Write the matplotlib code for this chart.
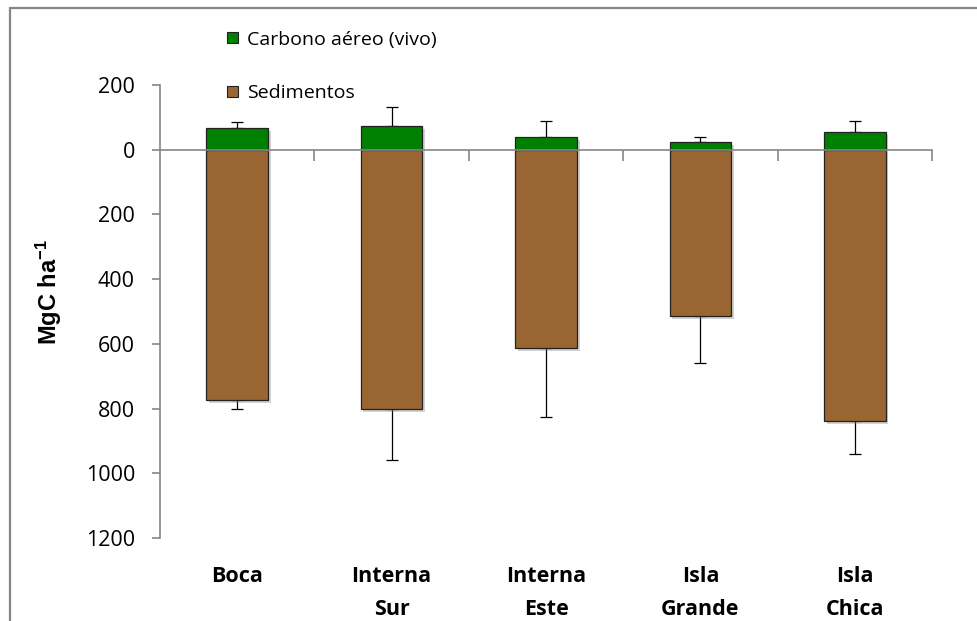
import matplotlib
matplotlib.use("Agg")
import matplotlib.pyplot as plt
import matplotlib.patheffects as pe
from matplotlib.patches import Patch, Rectangle
from matplotlib.ticker import FuncFormatter
import numpy as np

categories = ["Boca", "Interna\nSur", "Interna\nEste", "Isla\nGrande", "Isla\nChica"]
carbono_aereo = [67, 73, 40, 24, 54]
carbono_aereo_err = [19, 58, 48, 16, 34]
sedimentos = [775, 802, 613, 515, 839]
sedimentos_err = [27, 156, 213, 145, 101]
yticks = [200, 0, -200, -400, -600, -800, -1000, -1200]

plt.rcParams['font.family'] = ['Open Sans', 'DejaVu Sans']
plt.rcParams['mathtext.default'] = 'regular'

fig = plt.figure(figsize=(9.78, 6.21), dpi=100)
W, H = 978, 621
ax = fig.add_axes([160 / W, 1 - 538 / H, (932 - 160) / W, (538 - 85) / H])

x = np.arange(len(categories))
green = "#008000"
brown = "#996633"
shadow = [pe.SimplePatchShadow(offset=(2, -2), alpha=0.35, shadow_rgbFace="#808080"), pe.Normal()]

sed_vals = -np.array(sedimentos)
b1 = ax.bar(x, sed_vals, width=0.4, color=brown, edgecolor="#222222", linewidth=0.9, zorder=3)
b2 = ax.bar(x, carbono_aereo, width=0.4, color=green, edgecolor="#222222", linewidth=0.9, zorder=3)
for p in list(b1) + list(b2):
    p.set_path_effects(shadow)

ax.errorbar(x, sed_vals, yerr=[sedimentos_err, np.zeros(5)], fmt="none", ecolor="black",
            elinewidth=0.9, capsize=4, capthick=0.9, zorder=2)
ax.errorbar(x, carbono_aereo, yerr=[np.zeros(5), carbono_aereo_err], fmt="none", ecolor="black",
            elinewidth=0.9, capsize=4, capthick=0.9, zorder=2)

ax.set_xlim(-0.5, 4.5)
ax.set_ylim(-1200, 200)
ax.set_yticks(yticks)
ax.yaxis.set_major_formatter(FuncFormatter(lambda v, p: f"{abs(int(v))}"))

for s in ["top", "right"]:
    ax.spines[s].set_visible(False)
ax.spines["left"].set_color("#868686")
ax.spines["left"].set_linewidth(1.2)
ax.spines["bottom"].set_position(("data", 0))
ax.spines["bottom"].set_color("#868686")
ax.spines["bottom"].set_linewidth(1.2)
ax.spines["bottom"].set_zorder(4)

ax.tick_params(axis="y", direction="out", length=6, width=1.2, color="#868686",
               labelsize=15.5, pad=12, labelcolor="black")
ax.set_xticks([0.5, 1.5, 2.5, 3.5, 4.5])
ax.set_xticklabels([])
ax.tick_params(axis="x", direction="out", length=8, width=1.2, color="#868686")

sec = ax.secondary_xaxis(0)
sec.set_xticks(x)
sec.set_xticklabels(categories, fontsize=15.5, fontweight="bold", linespacing=1.75)
sec.tick_params(length=0, pad=20)
sec.spines["bottom"].set_visible(False)

ax.set_ylabel("MgC ha$^{-1}$", fontsize=17, fontweight="bold", family="Liberation Sans")
ax.yaxis.set_label_coords(-96 / (932 - 160), (538 - 292) / (538 - 85))

handles = [Patch(facecolor=green, edgecolor="#222222", linewidth=0.8),
           Patch(facecolor=brown, edgecolor="#222222", linewidth=0.8)]
fig.legend(handles, ["Carbono aéreo (vivo)", "Sedimentos"], loc="upper left",
           bbox_to_anchor=(210 / W, 1 - 13 / H), frameon=False, fontsize=14,
           handlelength=0.55, handleheight=0.55, handletextpad=0.45, labelspacing=1.85)

fig.patches.append(Rectangle((10 / W, -0.1), 1.2, 1 - 8 / H + 0.1, transform=fig.transFigure,
                             fill=False, edgecolor="#868686", linewidth=1.6))

fig.savefig("out.png", dpi=100)
